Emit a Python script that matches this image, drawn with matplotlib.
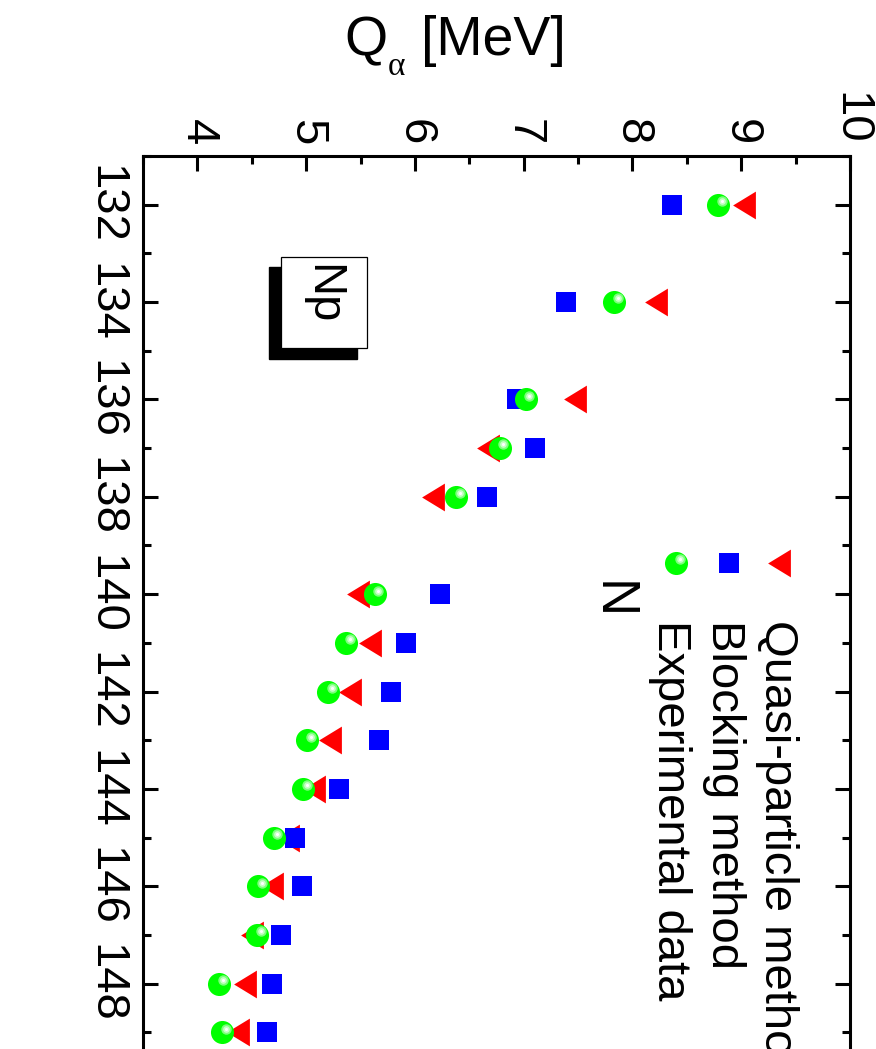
import matplotlib
matplotlib.use('Agg')
import matplotlib.pyplot as plt
from matplotlib.transforms import offset_copy
from matplotlib.patches import Rectangle
from matplotlib.ticker import MultipleLocator

plt.rcParams['font.family'] = ['Liberation Sans Narrow', 'Liberation Sans', 'DejaVu Sans']

# ---- data ----
N = [132, 134, 136, 137, 138, 140, 141, 142, 143, 144, 145, 146, 147, 148, 149]
quasi = [9.03, 8.22, 7.47, 6.67, 6.17, 5.48, 5.59, 5.40, 5.22, 5.07, 4.83, 4.69, 4.50, 4.44, 4.37]
blocking = [8.36, 7.39, 6.94, 7.10, 6.66, 6.23, 5.92, 5.78, 5.67, 5.30, 4.90, 4.96, 4.77, 4.69, 4.64]
experiment = [8.79, 7.83, 7.02, 6.78, 6.38, 5.63, 5.37, 5.20, 5.01, 4.97, 4.70, 4.56, 4.55, 4.20, 4.23]
series_labels = ['Quasi-particle method', 'Blocking method', 'Experimental data']
q_ticks = [4, 5, 6, 7, 8, 9, 10]
n_ticks = [132, 134, 136, 138, 140, 142, 144, 146, 148]

W, H = 876, 1049
fig = plt.figure(figsize=(W / 100, H / 100), dpi=100)
L, R, T, B = 143 / W, 850 / W, 1 - 156 / H, 1 - 1081 / H
ax = fig.add_axes([L, B, R - L, T - B])
ax.set_xlim(3.5, 10)
ax.set_ylim(150, 131)

tri = [(0.82, 1), (-0.82, 0), (0.82, -1), (0.82, 1)]
red, blue, green = '#FF0000', '#0000FF', '#00FF00'

def sphere(axis, x, y, transform, ms=16.6, z=5):
    axis.plot(x, y, 'o', ms=ms, color=green, mew=0, transform=transform, zorder=z, clip_on=False)
    hl = offset_copy(transform, fig=fig, x=2.6, y=2.6, units='points')
    axis.plot(x, y, 'o', ms=7.5, color='#7CFF7C', mew=0, transform=hl, zorder=z + 0.1, clip_on=False)
    axis.plot(x, y, 'o', ms=4.8, color='#C8FFC8', mew=0, transform=hl, zorder=z + 0.2, clip_on=False)
    axis.plot(x, y, 'o', ms=2.2, color='white', mew=0, transform=hl, zorder=z + 0.3, clip_on=False)

ax.plot(quasi, N, linestyle='none', marker=tri, ms=20, color=red, mew=0, zorder=3)
ax.plot(blocking, N, linestyle='none', marker='s', ms=15.1, color=blue, mew=0, zorder=4)
sphere(ax, experiment, N, ax.transData)

# axes styling
for s in ax.spines.values():
    s.set_linewidth(2.2)
ax.xaxis.set_minor_locator(MultipleLocator(0.5))
ax.yaxis.set_minor_locator(MultipleLocator(1))
ax.set_xticks(q_ticks)
ax.set_xticklabels([str(v) for v in q_ticks])
ax.set_yticks(n_ticks)
ax.set_yticklabels([str(v) for v in n_ticks])
ax.tick_params(axis='x', which='both', top=True, bottom=True, labeltop=True, labelbottom=False,
               direction='in', labelrotation=-90, labelsize=34, pad=8, width=2.2)
ax.tick_params(axis='y', which='both', left=True, right=True, labelleft=True, labelright=False,
               direction='in', labelrotation=-90, labelsize=34, pad=11, width=2.2)
ax.tick_params(which='major', length=11)
ax.tick_params(which='minor', length=5.8)
for lbl in ax.get_yticklabels():
    lbl.set_va('center')

# legend (drawn manually, rotated)
def ax_x(px):
    return (px - 143) / 707

def ax_y(py):
    return (1081 - py) / 925

leg_y = ax_y(563)
ax.plot([ax_x(779)], [leg_y], linestyle='none', marker=tri, ms=20, color=red, mew=0,
        transform=ax.transAxes, zorder=5, clip_on=False)
ax.plot([ax_x(729)], [leg_y], linestyle='none', marker='s', ms=15.1, color=blue, mew=0,
        transform=ax.transAxes, zorder=5, clip_on=False)
sphere(ax, [ax_x(676)], [leg_y], ax.transAxes)
for xp, lab in zip([777, 724, 670], series_labels):
    ax.text(ax_x(xp), ax_y(620), lab, rotation=-90, ha='center', va='top', fontsize=34,
            transform=ax.transAxes, clip_on=False)

# Np box with shadow
ax.add_patch(Rectangle((ax_x(269), ax_y(359)), ax_x(357) - ax_x(269), ax_y(267) - ax_y(359),
                       transform=ax.transAxes, facecolor='black', edgecolor='black', zorder=6))
ax.add_patch(Rectangle((ax_x(281), ax_y(348)), ax_x(367) - ax_x(281), ax_y(257) - ax_y(348),
                       transform=ax.transAxes, facecolor='white', edgecolor='black', lw=0.9, zorder=7))
ax.text(ax_x(322), ax_y(294), 'Np', rotation=-90, ha='center', va='center', fontsize=34,
        transform=ax.transAxes, zorder=8)

# axis titles
fig.text(344 / W, 1 - 55 / H, 'Q', ha='left', va='baseline', fontsize=40, family='Liberation Sans')
fig.text(388 / W, 1 - 75 / H, '\u03b1', ha='left', va='baseline', fontsize=24, family='Liberation Serif')
fig.text(566 / W, 1 - 55 / H, '[MeV]', ha='right', va='baseline', fontsize=40, family='Liberation Sans')
fig.text(612 / W, 1 - 600 / H, 'N', rotation=-90, ha='center', va='center', fontsize=38)

fig.savefig('out.png', dpi=100)
